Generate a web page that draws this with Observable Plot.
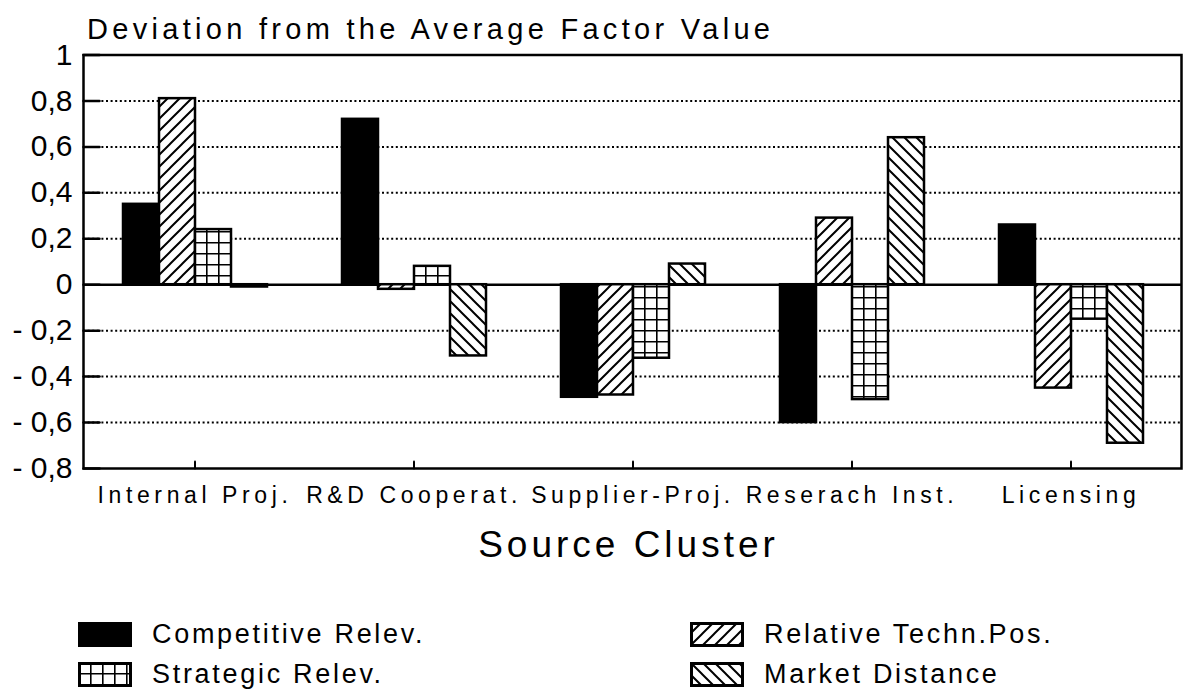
<!DOCTYPE html>
<html>
<head>
<meta charset="utf-8">
<script src="https://cdn.jsdelivr.net/npm/d3@7"></script>
<script src="https://cdn.jsdelivr.net/npm/@observablehq/plot@0.6"></script>
<style>
  body { margin: 0; background: #fff; font-family: "Liberation Sans", Arial, sans-serif; color: #000; }
  #wrap { position: relative; width: 1189px; height: 693px; overflow: hidden; background: #fff; }
  #title { position: absolute; left: 87px; top: 13px; font-size: 29px; letter-spacing: 4.3px; white-space: nowrap; }
  #base, #bars { position: absolute; left: 0; top: 0; }
  #legend { position: absolute; left: 0; top: 0; width: 1189px; height: 693px; pointer-events: none; }
  .item { position: absolute; display: flex; align-items: center; white-space: nowrap; font-size: 27px; letter-spacing: 2.7px; }
  .item svg { margin-right: 20px; }
  #base g[aria-label="x-axis tick label"] text { letter-spacing: 4.6px; }
  #base g[aria-label="text"] text { letter-spacing: 4px; }
</style>
</head>
<body>
<svg width="0" height="0" style="position:absolute">
  <defs>
    <pattern id="pat-fwd" patternUnits="userSpaceOnUse" width="12" height="12">
      <rect width="12" height="12" fill="#fff"/>
      <path d="M-3,3 L3,-3 M0,12 L12,0 M9,15 L15,9" stroke="#000" stroke-width="2"/>
    </pattern>
    <pattern id="pat-back" patternUnits="userSpaceOnUse" width="12" height="12">
      <rect width="12" height="12" fill="#fff"/>
      <path d="M-3,9 L3,15 M0,0 L12,12 M9,-3 L15,3" stroke="#000" stroke-width="2"/>
    </pattern>
    <pattern id="pat-grid" patternUnits="userSpaceOnUse" width="12" height="11">
      <rect width="12" height="11" fill="#fff"/>
      <path d="M0,0 V11 M0,0 H12" stroke="#000" stroke-width="3.2"/>
    </pattern>
  </defs>
</svg>
<div id="wrap">
  <div id="title">Deviation from the Average Factor Value</div>
  <div id="chart"></div>
  <div id="legend"></div>
</div>
<script>
// ---- data ----
const clusters = ["Internal Proj.", "R&D Cooperat.", "Supplier-Proj.", "Reserach Inst.", "Licensing"];
const seriesNames = ["Competitive Relev.", "Relative Techn.Pos.", "Strategic Relev.", "Market Distance"];
const competitiveRelev = [0.35, 0.72, -0.49, -0.60, 0.26];
const relativeTechnPos = [0.81, -0.02, -0.48, 0.29, -0.45];
const strategicRelev = [0.24, 0.08, -0.32, -0.50, -0.15];
const marketDistance = [-0.01, -0.31, 0.09, 0.64, -0.69];
const yTicks = [1, 0.8, 0.6, 0.4, 0.2, 0, -0.2, -0.4, -0.6, -0.8];
const xTitle = "Source Cluster";

// ---- styles ----
const fills = ["#000", "url(#pat-fwd)", "url(#pat-grid)", "url(#pat-back)"];

const values = [competitiveRelev, relativeTechnPos, strategicRelev, marketDistance];
const rows = clusters.flatMap((c, i) => seriesNames.map((s, k) => ({cluster: c, series: s, value: values[k][i]})));

const fmt = d => d === 0 ? "0" : (d < 0 ? "- " : "") + String(+Math.abs(d).toFixed(1)).replace(".", ",");

const tickRight = {draw(context, l) { context.moveTo(0, 0); context.lineTo(l, 0); }};
const tickUp = {draw(context, l) { context.moveTo(0, 0); context.lineTo(0, -l); }};

const common = {
  width: 1189, height: 580,
  marginLeft: 83, marginRight: 8, marginTop: 54.5, marginBottom: 112
};

const base = Plot.plot({
  ...common,
  style: {background: "transparent", fontFamily: "Liberation Sans, Arial, sans-serif", color: "#000"},
  x: {type: "band", domain: clusters, padding: 0, label: null},
  y: {domain: [-0.8, 1], label: null},
  marks: [
    Plot.ruleY(yTicks.filter(d => d !== 0 && d !== 1 && d !== -0.8), {stroke: "#000", strokeWidth: 2, strokeDasharray: "2,2.6"}),
    Plot.axisY(yTicks, {tickSize: 0, tickPadding: 11, tickFormat: fmt, fontSize: 30, label: null}),
    Plot.vector(yTicks, {y: d => d, frameAnchor: "left", length: 16, anchor: "start", shape: tickRight, stroke: "#000", strokeWidth: 2.5}),
    Plot.axisX({tickSize: 0, tickPadding: 18, fontSize: 23, label: null}),
    Plot.vector(clusters, {x: d => d, frameAnchor: "bottom", length: 7, anchor: "start", shape: tickUp, stroke: "#000", strokeWidth: 2}),
    Plot.text([xTitle], {frameAnchor: "bottom", dy: 88, dx: -4, fontSize: 37, fontWeight: 300}),
    Plot.ruleY([0], {stroke: "#000", strokeWidth: 2.5}),
    Plot.frame({stroke: "#000", strokeWidth: 2.5})
  ]
});
base.id = "base";

const bars = Plot.plot({
  ...common,
  style: {background: "transparent"},
  facet: {data: rows, x: "cluster"},
  fx: {domain: clusters, padding: 0, axis: null, label: null},
  x: {domain: seriesNames, paddingInner: 0, paddingOuter: 0.99, axis: null},
  y: {domain: [-0.8, 1], axis: null},
  color: {domain: seriesNames, range: fills},
  marks: [
    Plot.barY(rows, {x: "series", y: "value", fill: "series", stroke: "#000", strokeWidth: 2.5})
  ]
});
bars.id = "bars";

const chart = document.getElementById("chart");
chart.appendChild(base);
chart.appendChild(bars);

// ---- legend ----
const legend = document.getElementById("legend");
const pos = [
  {left: 78, top: 619}, {left: 690, top: 619},
  {left: 78, top: 659}, {left: 690, top: 659}
];
seriesNames.forEach((name, i) => {
  const div = document.createElement("div");
  div.className = "item";
  div.style.left = pos[i].left + "px";
  div.style.top = pos[i].top + "px";
  div.innerHTML = `<svg width="54" height="26"><rect x="1.5" y="1.5" width="51" height="22" fill="${fills[i]}" stroke="#000" stroke-width="3"/></svg><span>${name}</span>`;
  legend.appendChild(div);
});
</script>
</body>
</html>
